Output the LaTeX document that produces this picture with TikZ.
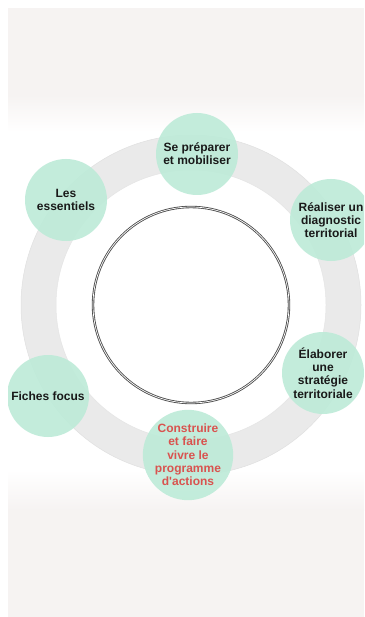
\documentclass[tikz,border=0pt]{standalone}
\usepackage{fontspec}
\newfontfamily\bubblefont{Liberation Sans}
\definecolor{bgc}{HTML}{F6F3F2}
\definecolor{mint}{HTML}{BDEBD8}
\definecolor{ringc}{HTML}{EAEAEA}
\definecolor{redtxt}{HTML}{D9534F}
\tikzset{
  bubble/.style={circle, fill=mint, inner sep=0pt, minimum size=82pt, fill opacity=0.9, text opacity=1,
    align=center, font=\bubblefont\bfseries\fontsize{12}{13.3}\selectfont, text=black!90},
}
\begin{document}
\begin{tikzpicture}[x=1pt,y=1pt]
\useasboundingbox (0,0) rectangle (364,-617);
\fill[white] (0,0) rectangle (364,-617);
\begin{scope}
\clip (8,-8) rectangle (364,-617);
\fill[bgc] (8,-8) rectangle (364,-617);
\shade[top color=bgc, bottom color=white] (8,-95) rectangle (364,-132);
\fill[white] (8,-132) rectangle (364,-470);
\shade[top color=white, bottom color=bgc] (8,-470) rectangle (364,-510);
% grey ring
\fill[ringc, even odd rule] (191,-305) circle (170) (191,-305) circle (135);
\draw[black!12, line width=0.5pt] (191,-305) circle (170);
\draw[black!10, line width=0.5pt] (191,-305) circle (135);
\draw[black!8, line width=0.4pt] (191,-305) circle (158);
% inner double circle
\draw[black!70, line width=2.4pt] (191,-305) circle (98);
\draw[white, line width=0.7pt] (191,-305) circle (98);
% bubbles
\node[bubble] (prep) at (197,-154) {Se préparer\\et mobiliser};
\node[bubble] (ess) at (66,-200) {Les\\essentiels};
\node[bubble] (diag) at (331,-220) {Réaliser un\\diagnostic\\territorial};
\node[bubble] (strat) at (323,-373) {Élaborer\\une\\stratégie\\territoriale};
\node[bubble] (fiches) at (48,-396) {Fiches focus};
\node[bubble, text=redtxt] (prog) at (188,-455) {Construire\\et faire\\vivre le\\programme\\d'actions};
\end{scope}
\end{tikzpicture}
\end{document}
